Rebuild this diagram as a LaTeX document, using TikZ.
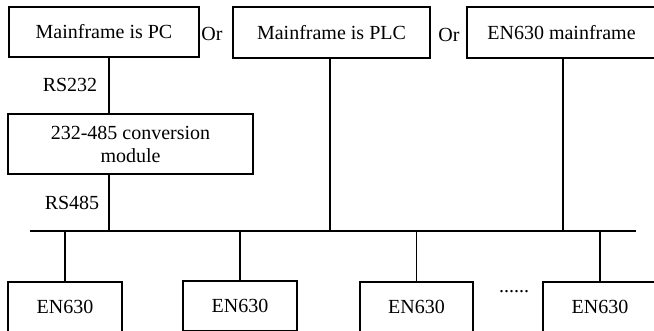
\documentclass[tikz,border=0pt]{standalone}
\usepackage{fontspec}
\setmainfont{Liberation Serif}
\begin{document}
\begin{tikzpicture}[x=1pt,y=1pt,
  box/.style={draw,line width=1.3pt,rectangle,inner sep=0pt,align=center},
  lbl/.style={inner sep=0pt},
  wire/.style={line width=1.3pt},
  every node/.style={font=\fontsize{20}{23}\selectfont}]
\useasboundingbox (0,0) rectangle (654,-331);
\clip (0,0) rectangle (654,-331);
% top row
\node[box,minimum width=190,minimum height=50] (pc) at (104,-32) {Mainframe is PC};
\node[box,minimum width=197,minimum height=51] (plc) at (331.5,-32.5) {Mainframe is PLC};
\node[box,minimum width=189,minimum height=51] (enm) at (561.5,-32.5) {EN630 mainframe};
\node[lbl] (or1) at (212,-34) {Or};
\node[lbl] (or2) at (449,-35) {Or};
% converter
\node[box,minimum width=245,minimum height=60] (conv) at (130.5,-144) {232-485 conversion\\module};
\node[lbl] (rs232) at (70,-85) {RS232};
\node[lbl] (rs485) at (72,-203) {RS485};
% bus coordinates
\coordinate (busL) at (30,-231);
\coordinate (busR) at (636,-231);
\coordinate (b1) at (109,-231);
\coordinate (b2) at (330,-231);
\coordinate (b3) at (563,-231);
% bottom row
\node[box,minimum width=114,minimum height=50] (e1) at (65,-307) {EN630};
\node[box,minimum width=114,minimum height=50] (e2) at (240,-306) {EN630};
\node[box,minimum width=113,minimum height=50] (e3) at (416.5,-307) {EN630};
\node[box,minimum width=114,minimum height=50] (e4) at (600,-307) {EN630};
\node[lbl,anchor=base] (dots) at (514,-293) {......};
% wires
\draw[wire] (busL) -- (busR);
\draw[wire] (pc.south -| b1) -- (conv.north -| b1);
\draw[wire] (conv.south -| b1) -- (b1);
\draw[wire] (plc.south -| b2) -- (b2);
\draw[wire] (enm.south -| b3) -- (b3);
\draw[wire] (e1.north) -- (e1.north |- busL);
\draw[wire] (e2.north) -- (e2.north |- busL);
\draw[wire] (e3.north) -- (e3.north |- busL);
\draw[wire] (e4.north) -- (e4.north |- busL);
\end{tikzpicture}
\end{document}
